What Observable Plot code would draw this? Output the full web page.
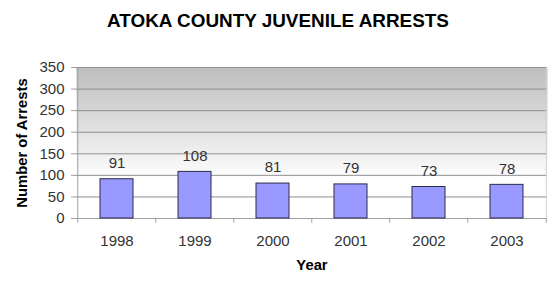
<!DOCTYPE html>
<html>
<head>
<meta charset="utf-8">
<script src="https://cdn.jsdelivr.net/npm/d3@7"></script>
<script src="https://cdn.jsdelivr.net/npm/@observablehq/plot@0.6"></script>
<style>
  html, body { margin: 0; padding: 0; background: #fff; }
  svg { font-family: Arial, "Liberation Sans", sans-serif; }
</style>
</head>
<body>
<div id="chart"></div>
<script>
const title = "ATOKA COUNTY JUVENILE ARRESTS";
const years = ["1998", "1999", "2000", "2001", "2002", "2003"];
const arrests = [91, 108, 81, 79, 73, 78];
const yTicks = [0, 50, 100, 150, 200, 250, 300, 350];
const yLabel = "Number of Arrests";
const xLabel = "Year";

const data = years.map((y, i) => ({year: y, value: arrests[i]}));

const W = 555, H = 290, mL = 76, mR = 8, mT = 67, mB = 72;
const step = (W - mL - mR) / years.length;

const gradientDefs = () => {
  const ns = "http://www.w3.org/2000/svg";
  const defs = document.createElementNS(ns, "defs");
  defs.innerHTML = `<linearGradient id="bgGrad" x1="0" y1="0" x2="0" y2="1">
    <stop offset="0" stop-color="#bdbdbd"/>
    <stop offset="0.75" stop-color="#ffffff"/>
    <stop offset="1" stop-color="#ffffff"/>
  </linearGradient>`;
  return defs;
};

const chart = Plot.plot({
  width: W,
  height: H,
  marginLeft: mL,
  marginRight: mR,
  marginTop: mT,
  marginBottom: mB,
  style: {fontFamily: "Arial, 'Liberation Sans', sans-serif", fontSize: "15px", color: "#333", background: "#fff"},
  x: {domain: years, paddingInner: 0.58, paddingOuter: 0.29},
  y: {domain: [0, 350]},
  marks: [
    gradientDefs,
    Plot.frame({fill: "url(#bgGrad)", stroke: null}),
    Plot.gridY(yTicks.filter(d => d > 0), {stroke: "#8f8f8f", strokeOpacity: 1, strokeWidth: 1}),
    Plot.ruleY([0], {stroke: "#a0a0a0"}),
    Plot.ruleX(years.slice(0, 1), {x: d => d, dx: -step / 2, y1: 0, y2: 350, stroke: "#a0a0a0"}),
    Plot.ruleX(years, {x: d => d, dx: -step / 2, y1: 0, y2: -11, stroke: "#a0a0a0"}),
    Plot.ruleX(years.slice(-1), {x: d => d, dx: step / 2, y1: 0, y2: 350, stroke: "#d0d0d0"}),
    Plot.ruleX(years.slice(-1), {x: d => d, dx: step / 2, y1: 0, y2: -11, stroke: "#a0a0a0"}),
    Plot.axisY(yTicks, {
      tickSize: 5, tickPadding: 7, stroke: "#a0a0a0", fontSize: 15, fill: "#333",
      label: yLabel, labelAnchor: "center", labelArrow: "none", labelOffset: 60
    }),
    Plot.axisX({tickSize: 0, tickPadding: 17, fontSize: 15, fill: "#333",
      label: xLabel, labelAnchor: "center", labelArrow: "none", labelOffset: 51}),
    Plot.barY(data, {x: "year", y: "value", fill: "#9999ff", stroke: "#2a2a4a", strokeWidth: 1}),
    Plot.text(data, {x: "year", y: "value", text: d => String(d.value), dy: -16, fontSize: 15, fill: "#333"}),
    Plot.text([title], {frameAnchor: "top", dy: -54, dx: -34, fontSize: 18.9, fontWeight: "bold", fill: "#000"})
  ]
});

// bold axis labels
chart.querySelectorAll('[aria-label="y-axis label"] text, [aria-label="x-axis label"] text').forEach(t => {
  t.setAttribute("font-weight", "bold");
  t.setAttribute("font-size", "14.8");
  t.setAttribute("fill", "#000");
});
document.getElementById("chart").appendChild(chart);
</script>
</body>
</html>
